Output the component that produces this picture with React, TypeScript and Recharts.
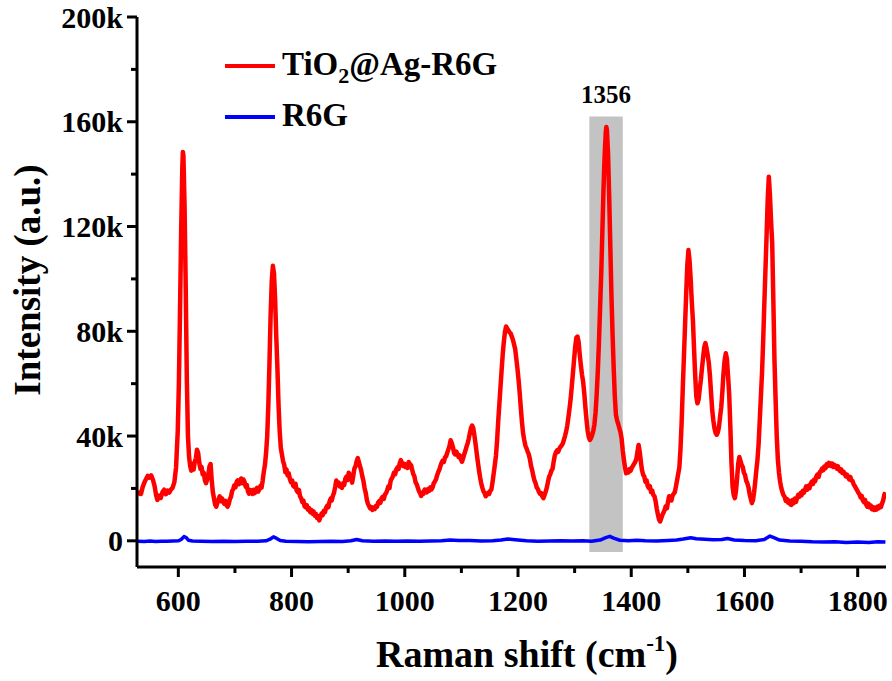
import React from 'react';
import { LineChart, Line, XAxis, YAxis, ReferenceArea } from 'recharts';

const FONT = '"Liberation Serif", "Times New Roman", Times, serif';

// [Raman shift (cm-1), intensity (k counts)]
const agR6G: [number, number][] = [
  [528, 17.6], [531, 18.4], [534, 17.9], [537, 20.5], [540, 22.3], [543, 23.6], [546, 24.8], [549, 24.1],
  [552, 25.0], [555, 23.4], [558, 21.0], [561, 17.2], [563, 15.6], [566, 17.3], [569, 16.4], [572, 18.6],
  [575, 19.5], [578, 17.8], [581, 19.2], [584, 18.4], [587, 19.6], [590, 20.3], [593, 22.4], [596, 28.0],
  [599, 42.0], [601, 60.0], [603, 88.0], [605, 118.0], [607, 142.0], [608, 148.5], [609, 147.0], [611, 128.0],
  [613, 98.0], [615, 62.0], [617, 40.0], [619, 32.0], [621, 28.5], [623, 26.8], [625, 29.4], [627, 27.2],
  [629, 30.1], [631, 31.5], [633, 34.8], [635, 33.6], [637, 29.8], [639, 27.5], [641, 28.2], [643, 25.4],
  [645, 26.0], [647, 23.1], [649, 22.0], [651, 23.5], [653, 25.2], [655, 28.4], [657, 29.3], [659, 23.0],
  [661, 18.6], [663, 16.2], [665, 13.8], [667, 13.0], [669, 14.6], [671, 15.8], [673, 17.0], [675, 15.1],
  [677, 16.2], [679, 15.0], [681, 14.2], [683, 15.3], [685, 13.6], [687, 13.0], [689, 14.1], [691, 15.9],
  [693, 16.8], [695, 19.0], [697, 19.8], [699, 21.2], [701, 20.4], [703, 22.5], [705, 23.1], [707, 21.6],
  [709, 22.3], [711, 23.8], [713, 22.0], [715, 23.4], [717, 22.5], [719, 20.6], [721, 21.3], [723, 18.9],
  [725, 18.0], [727, 19.4], [729, 18.7], [731, 17.9], [733, 19.5], [735, 18.2], [737, 18.9], [739, 20.2],
  [741, 18.8], [743, 19.6], [745, 21.0], [747, 20.3], [749, 23.0], [751, 26.4], [753, 29.0], [755, 33.5],
  [757, 40.0], [759, 52.0], [761, 68.0], [763, 86.0], [765, 99.0], [767, 105.0], [769, 102.0], [771, 92.0],
  [773, 78.0], [775, 66.0], [777, 52.0], [779, 42.0], [781, 35.5], [783, 33.0], [785, 30.4], [787, 29.1],
  [789, 26.2], [791, 27.3], [793, 25.0], [795, 25.8], [797, 23.6], [799, 22.4], [801, 23.1], [803, 21.0],
  [805, 20.6], [807, 21.8], [809, 19.2], [811, 18.6], [813, 19.4], [815, 17.0], [817, 16.2], [819, 14.8],
  [821, 15.3], [823, 13.2], [825, 12.8], [827, 13.6], [829, 11.9], [831, 12.5], [833, 10.9], [835, 11.8],
  [837, 10.4], [839, 11.2], [841, 9.6], [843, 10.3], [845, 8.7], [847, 9.4], [849, 7.8], [851, 9.2],
  [853, 10.4], [855, 9.8], [857, 11.5], [859, 10.9], [861, 12.6], [863, 13.4], [865, 12.8], [867, 14.9],
  [869, 16.1], [871, 15.4], [873, 17.2], [875, 18.3], [877, 20.5], [879, 23.0], [881, 21.4], [883, 22.3],
  [885, 20.8], [887, 21.6], [889, 20.2], [891, 22.0], [893, 21.3], [895, 23.7], [897, 24.5], [899, 23.2],
  [901, 26.0], [903, 25.1], [905, 24.4], [907, 22.2], [909, 24.8], [911, 27.6], [913, 28.5], [915, 30.4],
  [917, 31.6], [919, 30.0], [921, 28.4], [923, 26.9], [925, 24.6], [927, 22.8], [929, 20.1], [931, 18.3],
  [933, 15.6], [935, 14.1], [937, 13.2], [939, 12.4], [941, 12.9], [943, 11.8], [945, 12.6], [947, 12.2],
  [949, 13.4], [951, 13.0], [953, 14.6], [955, 15.2], [957, 14.5], [959, 16.3], [961, 16.8], [963, 16.0],
  [965, 17.7], [967, 18.2], [969, 19.4], [971, 20.8], [973, 20.1], [975, 22.9], [977, 23.8], [979, 24.6],
  [981, 26.1], [983, 25.4], [985, 27.2], [987, 28.0], [989, 27.4], [991, 29.5], [993, 30.8], [995, 29.7],
  [997, 28.6], [999, 29.4], [1001, 28.2], [1003, 29.0], [1005, 27.8], [1007, 30.1], [1009, 29.3], [1011, 28.9],
  [1013, 27.2], [1015, 25.5], [1017, 24.6], [1019, 22.4], [1021, 21.6], [1023, 20.3], [1025, 19.0], [1027, 18.2],
  [1029, 17.1], [1031, 18.4], [1033, 18.0], [1035, 19.6], [1037, 19.2], [1039, 18.5], [1041, 19.8], [1043, 19.1],
  [1045, 20.4], [1047, 19.6], [1049, 20.3], [1051, 21.9], [1053, 22.6], [1055, 23.4], [1057, 24.9], [1059, 26.2],
  [1061, 27.1], [1063, 28.6], [1065, 29.8], [1067, 30.6], [1069, 30.1], [1071, 31.8], [1073, 32.3], [1075, 33.6],
  [1077, 34.9], [1079, 36.2], [1081, 38.4], [1083, 37.3], [1085, 35.8], [1087, 33.6], [1089, 33.0], [1091, 34.1],
  [1093, 33.2], [1095, 32.0], [1097, 32.6], [1099, 31.1], [1101, 30.2], [1103, 31.5], [1105, 33.0], [1107, 34.4],
  [1109, 35.9], [1111, 37.2], [1113, 39.0], [1115, 41.2], [1117, 43.1], [1119, 44.0], [1121, 43.0], [1123, 40.2],
  [1125, 37.0], [1127, 33.5], [1129, 30.2], [1131, 27.1], [1133, 24.3], [1135, 22.0], [1137, 20.3], [1139, 18.9],
  [1141, 18.2], [1143, 17.0], [1145, 17.6], [1147, 18.3], [1149, 17.9], [1151, 19.1], [1153, 19.6], [1155, 22.4],
  [1157, 25.6], [1159, 28.9], [1161, 32.4], [1163, 38.0], [1165, 45.5], [1167, 52.0], [1169, 58.6], [1171, 65.0],
  [1173, 71.2], [1175, 76.0], [1177, 79.8], [1179, 81.8], [1181, 81.0], [1183, 80.4], [1185, 79.6], [1187, 79.2],
  [1189, 78.0], [1191, 76.8], [1193, 75.0], [1195, 73.2], [1197, 69.5], [1199, 65.8], [1201, 61.4], [1203, 56.4],
  [1205, 50.6], [1207, 45.3], [1209, 41.0], [1211, 38.5], [1213, 36.4], [1215, 35.3], [1217, 34.1], [1219, 33.0],
  [1221, 31.2], [1223, 28.6], [1225, 27.0], [1227, 24.8], [1229, 23.1], [1231, 22.0], [1233, 20.4], [1235, 19.8],
  [1237, 18.6], [1239, 17.9], [1241, 18.2], [1243, 16.9], [1245, 16.3], [1247, 17.6], [1249, 18.8], [1251, 20.4],
  [1253, 22.6], [1255, 24.5], [1257, 25.4], [1259, 26.8], [1261, 27.5], [1263, 30.2], [1265, 32.6], [1267, 33.8],
  [1269, 34.5], [1271, 34.0], [1273, 35.2], [1275, 35.9], [1277, 36.4], [1279, 37.1], [1281, 38.5], [1283, 40.0],
  [1285, 41.7], [1287, 44.0], [1289, 47.2], [1291, 50.5], [1293, 54.2], [1295, 59.0], [1297, 64.0], [1299, 69.0],
  [1301, 74.0], [1303, 77.5], [1305, 78.0], [1307, 76.0], [1309, 71.2], [1311, 67.0], [1313, 63.5], [1315, 60.8],
  [1317, 56.4], [1319, 51.0], [1321, 46.2], [1323, 42.0], [1325, 39.6], [1327, 38.5], [1329, 39.2], [1331, 40.4],
  [1333, 42.0], [1335, 44.5], [1337, 49.0], [1339, 56.0], [1341, 65.0], [1343, 76.0], [1345, 89.0], [1347, 102.0],
  [1349, 118.0], [1351, 134.0], [1353, 147.0], [1355, 156.0], [1356, 158.0], [1357, 157.0], [1359, 148.0], [1361, 132.0],
  [1363, 113.0], [1365, 94.0], [1367, 79.0], [1369, 66.0], [1371, 55.0], [1373, 48.0], [1375, 46.0], [1377, 44.6],
  [1379, 43.0], [1381, 41.5], [1383, 39.0], [1385, 34.5], [1387, 31.0], [1389, 28.0], [1391, 25.8], [1393, 26.9],
  [1395, 26.1], [1397, 27.4], [1399, 26.8], [1401, 27.9], [1403, 28.6], [1405, 29.4], [1407, 30.1], [1409, 31.2],
  [1411, 34.0], [1413, 36.6], [1415, 34.0], [1417, 30.2], [1419, 27.0], [1421, 25.2], [1423, 24.6], [1425, 22.5],
  [1427, 23.1], [1429, 21.0], [1431, 20.2], [1433, 20.9], [1435, 18.6], [1437, 19.2], [1439, 17.5], [1441, 17.0],
  [1443, 15.2], [1445, 12.4], [1447, 10.1], [1449, 8.2], [1451, 7.4], [1453, 8.6], [1455, 9.9], [1457, 10.8],
  [1459, 11.8], [1461, 13.2], [1463, 12.4], [1465, 15.0], [1467, 17.0], [1469, 16.0], [1471, 15.4], [1473, 17.3],
  [1475, 18.0], [1477, 18.6], [1479, 20.8], [1481, 23.2], [1483, 25.6], [1485, 28.0], [1487, 35.0], [1489, 45.0],
  [1491, 58.0], [1493, 70.0], [1495, 82.0], [1497, 94.0], [1499, 105.0], [1501, 111.0], [1503, 107.0], [1505, 100.0],
  [1507, 91.0], [1509, 84.0], [1511, 73.0], [1513, 63.0], [1515, 55.0], [1517, 52.5], [1519, 54.0], [1521, 58.0],
  [1523, 61.5], [1525, 66.0], [1527, 70.0], [1529, 74.0], [1531, 75.5], [1533, 73.5], [1535, 71.0], [1537, 68.0],
  [1539, 63.0], [1541, 56.5], [1543, 50.0], [1545, 46.0], [1547, 43.0], [1549, 41.2], [1551, 40.5], [1553, 41.4],
  [1555, 43.5], [1557, 47.5], [1559, 51.0], [1561, 57.0], [1563, 64.0], [1565, 69.0], [1567, 71.6], [1569, 69.5],
  [1571, 63.0], [1573, 56.0], [1575, 44.0], [1577, 30.0], [1579, 20.7], [1581, 17.5], [1583, 16.3], [1585, 19.0],
  [1587, 24.0], [1589, 29.5], [1591, 32.0], [1593, 30.5], [1595, 29.0], [1597, 28.2], [1599, 26.0], [1601, 25.2],
  [1603, 23.0], [1605, 22.0], [1607, 20.5], [1609, 18.0], [1611, 16.2], [1613, 14.4], [1615, 15.5], [1617, 18.5],
  [1619, 22.5], [1621, 27.0], [1623, 31.0], [1625, 37.0], [1627, 46.0], [1629, 55.0], [1631, 64.0], [1633, 76.0],
  [1635, 90.0], [1637, 103.0], [1639, 116.0], [1641, 130.0], [1643, 139.0], [1645, 132.0], [1647, 122.0], [1649, 113.6],
  [1651, 92.0], [1653, 69.0], [1655, 54.0], [1657, 40.0], [1659, 31.0], [1661, 26.0], [1663, 22.5], [1665, 20.2],
  [1667, 18.6], [1669, 17.4], [1671, 16.8], [1673, 15.2], [1675, 16.0], [1677, 14.6], [1679, 15.3], [1681, 13.9],
  [1683, 13.7], [1685, 15.6], [1687, 14.4], [1689, 16.1], [1691, 14.9], [1693, 16.4], [1695, 17.6], [1697, 16.8],
  [1699, 18.2], [1701, 17.4], [1703, 19.1], [1705, 18.3], [1707, 19.6], [1709, 20.8], [1711, 19.5], [1713, 21.0],
  [1715, 20.1], [1717, 21.8], [1719, 22.6], [1721, 21.7], [1723, 23.4], [1725, 22.8], [1727, 24.6], [1729, 25.3],
  [1731, 24.4], [1733, 26.2], [1735, 26.5], [1737, 27.6], [1739, 26.9], [1741, 28.4], [1743, 27.7], [1745, 29.2],
  [1747, 28.5], [1749, 29.8], [1751, 29.4], [1753, 28.6], [1755, 29.5], [1757, 28.2], [1759, 29.0], [1761, 28.4],
  [1763, 27.6], [1765, 28.5], [1767, 27.2], [1769, 26.6], [1771, 27.3], [1773, 25.9], [1775, 26.4], [1777, 25.5],
  [1779, 24.6], [1781, 25.3], [1783, 24.2], [1785, 23.5], [1787, 24.4], [1789, 23.0], [1791, 22.8], [1793, 21.5],
  [1795, 20.9], [1797, 20.0], [1799, 19.3], [1801, 18.4], [1803, 17.9], [1805, 16.6], [1807, 17.2], [1809, 15.5],
  [1811, 14.8], [1813, 15.6], [1815, 13.9], [1817, 13.0], [1819, 14.2], [1821, 12.8], [1823, 13.5], [1825, 12.1],
  [1827, 12.9], [1829, 11.8], [1831, 12.6], [1833, 11.9], [1835, 13.1], [1837, 12.4], [1839, 13.5], [1841, 12.9],
  [1843, 14.2], [1845, 15.4], [1847, 17.5], [1849, 18.5],
];

const r6g: [number, number][] = [
  [528, -0.2], [540, -0.3], [550, -0.1], [560, -0.3], [570, -0.2], [580, -0.2], [590, -0.1], [600, 0.0],
  [605, 0.5], [610, 1.6], [614, 1.2], [618, 0.2], [625, -0.1], [640, -0.2], [660, -0.3], [680, -0.2],
  [700, -0.3], [720, -0.2], [740, -0.2], [755, 0.0], [762, 0.6], [768, 1.5], [773, 1.0], [780, 0.1],
  [790, -0.2], [810, -0.3], [830, -0.4], [850, -0.3], [870, -0.2], [890, -0.3], [905, 0.0], [915, 0.5],
  [925, 0.0], [945, -0.2], [965, -0.1], [985, -0.2], [1005, -0.1], [1025, -0.2], [1045, -0.1], [1065, 0.0],
  [1080, 0.3], [1095, 0.1], [1115, 0.1], [1135, -0.1], [1155, 0.0], [1170, 0.3], [1182, 0.7], [1195, 0.4],
  [1215, 0.0], [1235, -0.2], [1255, -0.1], [1275, 0.0], [1295, -0.1], [1315, 0.0], [1330, -0.2], [1345, 0.3],
  [1355, 1.2], [1362, 1.7], [1370, 0.9], [1380, 0.2], [1395, 0.0], [1410, 0.2], [1425, 0.0], [1445, -0.1],
  [1465, 0.1], [1480, 0.3], [1492, 0.7], [1505, 1.2], [1515, 0.8], [1530, 0.6], [1545, 0.4], [1560, 0.5],
  [1570, 0.9], [1582, 0.3], [1600, 0.1], [1620, 0.0], [1635, 0.5], [1645, 1.8], [1652, 1.2], [1662, 0.3],
  [1680, -0.1], [1700, -0.2], [1720, -0.4], [1740, -0.5], [1760, -0.4], [1780, -0.6], [1800, -0.5], [1820, -0.6],
  [1835, -0.4], [1849, -0.5],
];

const shiftDomain: [number, number] = [527, 1850];
const intensityDomain: [number, number] = [-10, 200];
const shiftTicks = [600, 700, 800, 900, 1000, 1100, 1200, 1300, 1400, 1500, 1600, 1700, 1800];
const intensityTicks = [0, 20, 40, 60, 80, 100, 120, 140, 160, 180, 200];

// shaded band around the 1356 cm-1 peak
const band = { x1: 1326, x2: 1385, y1: -4.3, y2: 162, label: '1356' };

const agData = agR6G.map(([shift, value]) => ({ shift, value }));
const r6gData = r6g.map(([shift, value]) => ({ shift, value }));

const series = [
  { key: 'ag', color: '#ff0000', data: agData, width: 4.5 },
  { key: 'r6g', color: '#0000ff', data: r6gData, width: 3.5 },
];

const tickText = { fontFamily: FONT, fontWeight: 700, fontSize: 30, fill: '#000' };

const ShiftTick = (props: any) => {
  const { x, y, payload } = props;
  const major = payload.value % 200 === 0;
  return (
    <g>
      <line x1={x} x2={x} y1={y} y2={y + (major ? 10 : 6)} stroke="#000" strokeWidth={3} />
      {major && (
        <text x={x} y={y + 44} textAnchor="middle" {...tickText}>
          {payload.value}
        </text>
      )}
    </g>
  );
};

const IntensityTick = (props: any) => {
  const { x, y, payload } = props;
  const major = payload.value % 40 === 0;
  return (
    <g>
      <line x1={x - (major ? 10 : 6)} x2={x} y1={y} y2={y} stroke="#000" strokeWidth={3} />
      {major && (
        <text x={x - 14} y={y} dy="0.35em" textAnchor="end" {...tickText}>
          {payload.value === 0 ? '0' : `${payload.value}k`}
        </text>
      )}
    </g>
  );
};

const titleStyle = { fontFamily: FONT, fontWeight: 700, fill: '#000' };
const legendStyle = { fontFamily: FONT, fontWeight: 700, fontSize: 33, fill: '#000' };

export default function App() {
  return (
    <div style={{ position: 'absolute', left: 0, top: 0, width: 892, height: 681, background: '#fff' }}>
      <LineChart width={892} height={681} margin={{ top: 17, right: 6, bottom: 54, left: 0 }}>
        <XAxis
          dataKey="shift"
          type="number"
          domain={shiftDomain}
          allowDataOverflow
          ticks={shiftTicks}
          interval={0}
          height={60}
          tickSize={0}
          tickMargin={0}
          tickLine={false}
          tick={<ShiftTick />}
          axisLine={{ stroke: '#000', strokeWidth: 3 }}
        />
        <XAxis
          xAxisId="top"
          orientation="top"
          dataKey="shift"
          type="number"
          domain={shiftDomain}
          allowDataOverflow
          height={0}
          tick={false}
          tickLine={false}
          axisLine={{ stroke: '#000', strokeWidth: 3 }}
        />
        <YAxis
          type="number"
          domain={intensityDomain}
          allowDataOverflow
          ticks={intensityTicks}
          interval={0}
          width={137}
          tickSize={0}
          tickMargin={0}
          tickLine={false}
          tick={<IntensityTick />}
          axisLine={{ stroke: '#000', strokeWidth: 3 }}
        />
        <YAxis
          yAxisId="right"
          orientation="right"
          type="number"
          domain={intensityDomain}
          allowDataOverflow
          width={0}
          tick={false}
          tickLine={false}
          axisLine={{ stroke: '#000', strokeWidth: 3 }}
        />
        <ReferenceArea
          x1={band.x1}
          x2={band.x2}
          y1={band.y1}
          y2={band.y2}
          fill="#c3c3c3"
          fillOpacity={1}
          stroke="none"
          label={{ value: band.label, position: 'top', offset: 14, fill: '#000', fontSize: 25, fontWeight: 700, fontFamily: FONT }}
        />
        {series.map((s) => (
          <Line
            key={s.key}
            data={s.data}
            dataKey="value"
            type="linear"
            stroke={s.color}
            strokeWidth={s.width}
            strokeLinejoin="round"
            dot={false}
            activeDot={false}
            isAnimationActive={false}
          />
        ))}
      </LineChart>
      <svg width={892} height={681} style={{ position: 'absolute', left: 0, top: 0, pointerEvents: 'none' }}>
        <text transform="translate(40,280) rotate(-90)" textAnchor="middle" fontSize={37} {...titleStyle}>
          Intensity (a.u.)
        </text>
        <text x={527} y={667} textAnchor="middle" fontSize={38} {...titleStyle}>
          Raman shift (cm
          <tspan fontSize={23} dy={-16}>-1</tspan>
          <tspan dy={16}>)</tspan>
        </text>
        <line x1={225} x2={275} y1={66} y2={66} stroke="#ff0000" strokeWidth={4} />
        <text x={282} y={75} {...legendStyle}>
          TiO
          <tspan fontSize={22} dy={8}>2</tspan>
          <tspan dy={-8}>@Ag-R6G</tspan>
        </text>
        <line x1={225} x2={275} y1={117} y2={117} stroke="#0000ff" strokeWidth={4} />
        <text x={282} y={126} {...legendStyle}>
          R6G
        </text>
      </svg>
    </div>
  );
}
